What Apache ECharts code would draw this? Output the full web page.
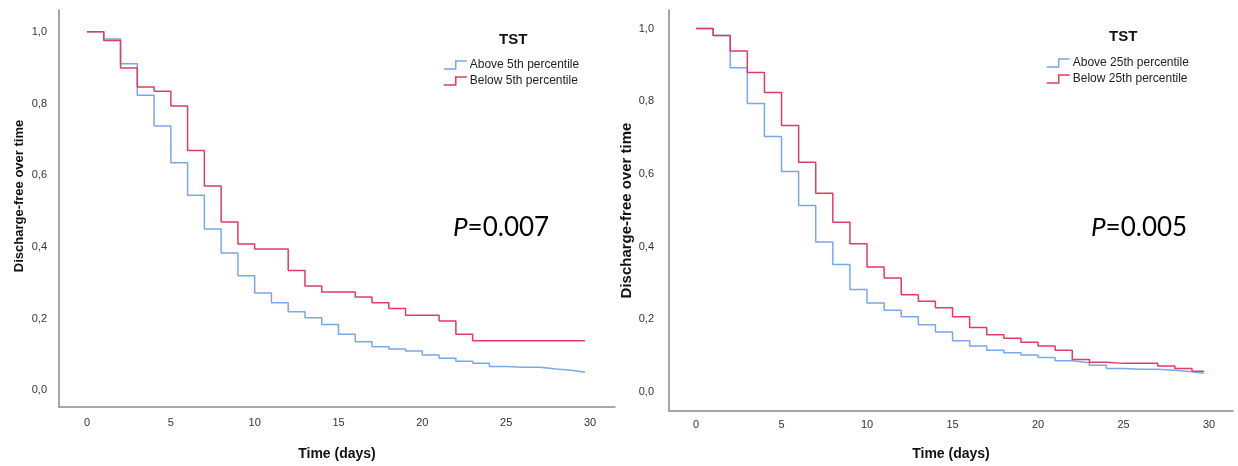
<!DOCTYPE html>
<html>
<head>
<meta charset="utf-8">
<script src="https://cdn.jsdelivr.net/npm/echarts@6/dist/echarts.min.js"></script>
<style>
  html, body { margin: 0; padding: 0; background: #fff; }
  #main { width: 1238px; height: 466px; }
</style>
</head>
<body>
<div id="main"></div>
<script type="text/javascript">
// days at which the curves step (last one is the end of follow-up)
var days = [0, 1, 2, 3, 4, 5, 6, 7, 8, 9, 10, 11, 12, 13, 14, 15, 16, 17, 18, 19, 20, 21, 22, 23, 24, 25, 26, 27, 28, 29, 29.7];

// left panel: 5th percentile
var above5 = [1.0, 0.98, 0.911, 0.823, 0.737, 0.635, 0.544, 0.450, 0.383, 0.319, 0.271, 0.244, 0.219, 0.202, 0.183, 0.156, 0.135, 0.121, 0.115, 0.109, 0.098, 0.089, 0.081, 0.075, 0.066, 0.064, 0.064, 0.059, 0.055, 0.050, 0.050];
var below5 = [1.0, 0.976, 0.899, 0.846, 0.834, 0.793, 0.669, 0.570, 0.469, 0.408, 0.394, 0.394, 0.334, 0.291, 0.274, 0.274, 0.260, 0.244, 0.228, 0.209, 0.209, 0.193, 0.156, 0.138, 0.138, 0.138, 0.138, 0.138, 0.138, 0.138, 0.138];

// right panel: 25th percentile
var above25 = [1.0, 0.981, 0.892, 0.794, 0.703, 0.607, 0.513, 0.413, 0.351, 0.282, 0.245, 0.225, 0.207, 0.185, 0.165, 0.141, 0.127, 0.115, 0.108, 0.102, 0.095, 0.086, 0.081, 0.074, 0.065, 0.063, 0.063, 0.060, 0.056, 0.052, 0.052];
var below25 = [1.0, 0.981, 0.938, 0.879, 0.824, 0.733, 0.632, 0.547, 0.467, 0.408, 0.344, 0.314, 0.268, 0.250, 0.232, 0.207, 0.178, 0.158, 0.148, 0.137, 0.127, 0.115, 0.090, 0.082, 0.079, 0.079, 0.079, 0.072, 0.065, 0.057, 0.057];

var xTicks = [0, 5, 10, 15, 20, 25, 30];
var yTicks = [0, 0.2, 0.4, 0.6, 0.8, 1.0];

var blue = '#78a8ec';
var red = '#e03c64';
var axisGray = '#8a8a8a';
var stepIcon = 'path://M0,8 L12,8 L12,0 L23,0';

function pairs(vals) {
	return days.map(function (d, i) { return [d, vals[i]]; });
}

function makeX(idx, min, max, gap, margin) {
	return {
		type: 'value', gridIndex: idx, min: min, max: max,
		name: 'Time (days)', nameLocation: 'middle', nameGap: gap,
		nameTextStyle: { fontFamily: 'Liberation Sans', fontSize: 14, fontWeight: 'bold', color: '#111' },
		axisLine: { show: true, onZero: false, lineStyle: { color: axisGray, width: 1.5 } },
		axisTick: { show: false },
		splitLine: { show: false },
		axisLabel: { customValues: xTicks, margin: margin, fontFamily: 'Liberation Sans', fontSize: 11, color: '#333' }
	};
}

function makeY(idx, min, max, gap, fs, pad, margin) {
	return {
		type: 'value', gridIndex: idx, min: min, max: max,
		name: 'Discharge-free over time', nameLocation: 'middle', nameGap: gap,
		nameTextStyle: { fontFamily: 'Liberation Sans', fontSize: fs, fontWeight: 'bold', color: '#111', padding: pad },
		axisLine: { show: true, onZero: false, lineStyle: { color: axisGray, width: 1.5 } },
		axisTick: { show: false },
		splitLine: { show: false },
		axisLabel: {
			customValues: yTicks, margin: margin, fontFamily: 'Liberation Sans', fontSize: 11, color: '#333',
			formatter: function (v) { return v.toFixed(1).replace('.', ','); }
		}
	};
}

function makeLine(name, vals, color, idx) {
	return {
		name: name, type: 'line', step: 'end', xAxisIndex: idx, yAxisIndex: idx,
		data: pairs(vals), showSymbol: false, symbol: 'none', silent: true,
		lineStyle: { color: color, width: 1.5 }, itemStyle: { color: color }
	};
}

function makeLegend(names, left, top) {
	return {
		orient: 'vertical', left: left, top: top, itemGap: 4,
		itemWidth: 23, itemHeight: 8, icon: stepIcon,
		textStyle: { fontFamily: 'Liberation Sans', fontSize: 12, color: '#222', padding: [0, 0, 0, -2] },
		data: [
			{ name: names[0], itemStyle: { color: 'transparent', borderColor: blue, borderWidth: 1.5 } },
			{ name: names[1], itemStyle: { color: 'transparent', borderColor: red, borderWidth: 1.5 } }
		]
	};
}

var myChart = echarts.init(document.getElementById('main'));

var option = {
	animation: false,
	backgroundColor: '#fff',
	grid: [
		{ left: 59, top: 10, width: 556, height: 399 },
		{ left: 669, top: 10, width: 564, height: 402 }
	],
	xAxis: [
		makeX(0, -1.67, 31.49, 40, 10),
		makeX(1, -1.58, 31.4, 36, 8)
	],
	yAxis: [
		makeY(0, -0.047, 1.061, 33, 13, [0, 0, 0, 25], 12),
		makeY(1, -0.052, 1.051, 34, 15, 0, 15)
	],
	legend: [
		makeLegend(['Above 5th percentile', 'Below 5th percentile'], 438, 54),
		makeLegend(['Above 25th percentile', 'Below 25th percentile'], 1041, 52)
	],
	graphic: [
		{ type: 'text', left: 499, top: 32, style: { text: 'TST', font: 'bold 15px "Liberation Sans"', fill: '#111' } },
		{ type: 'text', left: 1109, top: 29, style: { text: 'TST', font: 'bold 15px "Liberation Sans"', fill: '#111' } },
		{ type: 'text', left: 453, top: 215, style: {
			text: '{i|P}=0.007', font: '26px Lato', fill: '#000',
			rich: { i: { fontStyle: 'italic', fontSize: 26, fontFamily: 'Lato', fill: '#000' } }
		} },
		{ type: 'text', left: 1091, top: 215, style: {
			text: '{i|P}=0.005', font: '26px Lato', fill: '#000',
			rich: { i: { fontStyle: 'italic', fontSize: 26, fontFamily: 'Lato', fill: '#000' } }
		} }
	],
	series: [
		makeLine('Above 5th percentile', above5, blue, 0),
		makeLine('Below 5th percentile', below5, red, 0),
		makeLine('Above 25th percentile', above25, blue, 1),
		makeLine('Below 25th percentile', below25, red, 1)
	]
};

myChart.setOption(option);
</script>
</body>
</html>
